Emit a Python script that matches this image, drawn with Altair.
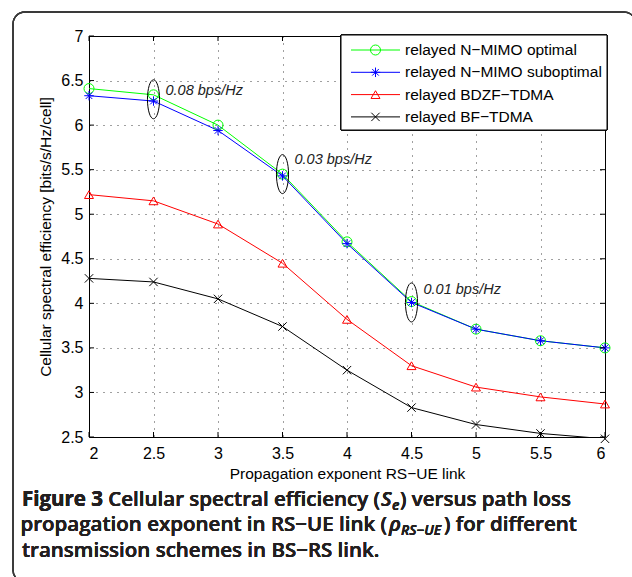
import altair as alt
import pandas as pd

# ---------------- data ----------------
x_vals = [2, 2.5, 3, 3.5, 4, 4.5, 5, 5.5, 6]
series_names = [
    "relayed N\u2212MIMO optimal",
    "relayed N\u2212MIMO suboptimal",
    "relayed BDZF\u2212TDMA",
    "relayed BF\u2212TDMA",
]
optimal = [6.41, 6.34, 6.00, 5.45, 4.69, 4.02, 3.71, 3.58, 3.50]
suboptimal = [6.33, 6.27, 5.94, 5.43, 4.67, 4.01, 3.71, 3.58, 3.50]
bdzf = [5.22, 5.15, 4.89, 4.45, 3.82, 3.30, 3.06, 2.95, 2.87]
bf = [4.28, 4.24, 4.05, 3.74, 3.25, 2.83, 2.64, 2.54, 2.48]
series_values = [optimal, suboptimal, bdzf, bf]

x_ticks = [2, 2.5, 3, 3.5, 4, 4.5, 5, 5.5, 6]
y_ticks = [2.5, 3, 3.5, 4, 4.5, 5, 5.5, 6, 6.5, 7]

ellipse_x = [2.5, 3.5, 4.5]
ellipse_y = [6.29, 5.45, 4.01]
annot_y = [6.38, 5.61, 4.15]
annot_text = ["0.08 bps/Hz", "0.03 bps/Hz", "0.01 bps/Hz"]

colors = ["#00ff00", "#0000ff", "#ff0000", "#000000"]
CIRCLE = "circle"
ASTER = "M0,-1L0,1M-1,0L1,0M-0.7,-0.7L0.7,0.7M-0.7,0.7L0.7,-0.7"
TRI = "triangle-up"
CROSS = "M-1,-1L1,1M-1,1L1,-1"
shapes = [CIRCLE, ASTER, TRI, CROSS]
sizes = [100, 70, 110, 50]

# ---------------- tables ----------------
rows = []
for name, vals in zip(series_names, series_values):
    for x, v in zip(x_vals, vals):
        rows.append({"series": name, "x": x, "y": v})
df = pd.DataFrame(rows)

W, H = 516, 401
XS = alt.Scale(domain=[2, 6], nice=False, zero=False)
YS = alt.Scale(domain=[2.5, 7], nice=False, zero=False)
col_scale = alt.Scale(domain=series_names, range=colors)
shape_scale = alt.Scale(domain=series_names, range=shapes)
size_scale = alt.Scale(domain=series_names, range=sizes)

AX = "Liberation Sans"

x_axis = alt.Axis(values=x_ticks, format="~g", title="Propagation exponent RS\u2212UE link",
                  grid=True, ticks=False, domain=False, labelPadding=8, titlePadding=5)
y_axis = alt.Axis(values=y_ticks, format="~g", title="Cellular spectral efficiency [bits/s/Hz/cell]",
                  grid=True, ticks=False, domain=False, labelPadding=6, titlePadding=7)

base = alt.Chart(df)

lines = base.mark_line(strokeWidth=1, clip=True).encode(
    x=alt.X("x:Q", scale=XS, axis=x_axis),
    y=alt.Y("y:Q", scale=YS, axis=y_axis),
    color=alt.Color("series:N", scale=col_scale, legend=None),
    detail="series:N",
)

points = base.mark_point(filled=False, strokeWidth=1, opacity=1).encode(
    x=alt.X("x:Q", scale=XS),
    y=alt.Y("y:Q", scale=YS),
    color=alt.Color("series:N", scale=col_scale, legend=None),
    shape=alt.Shape("series:N", scale=shape_scale, legend=None),
    size=alt.Size("series:N", scale=size_scale, legend=None),
)

# inward ticks
xt = pd.DataFrame({"v": x_ticks})
yt = pd.DataFrame({"v": y_ticks})
tick_b = alt.Chart(xt).mark_rule(color="black", strokeWidth=1).encode(
    x=alt.X("v:Q", scale=XS), y=alt.value(H), y2=alt.value(H - 5))
tick_t = alt.Chart(xt).mark_rule(color="black", strokeWidth=1).encode(
    x=alt.X("v:Q", scale=XS), y=alt.value(0), y2=alt.value(5))
tick_l = alt.Chart(yt).mark_rule(color="black", strokeWidth=1).encode(
    y=alt.Y("v:Q", scale=YS), x=alt.value(0), x2=alt.value(5))
tick_r = alt.Chart(yt).mark_rule(color="black", strokeWidth=1).encode(
    y=alt.Y("v:Q", scale=YS), x=alt.value(W), x2=alt.value(W - 5))

# annotations
ann = pd.DataFrame({"x": ellipse_x, "y": ellipse_y, "ty": annot_y, "t": annot_text})
ELL = "M0,-1A0.31,1,0,1,1,0,1A0.31,1,0,1,1,0,-1Z"
ellipses = alt.Chart(ann).mark_point(shape=ELL, filled=False, color="black",
                                     strokeWidth=1, size=1521, opacity=1).encode(
    x=alt.X("x:Q", scale=XS), y=alt.Y("y:Q", scale=YS))
ann_text = alt.Chart(ann).mark_text(align="left", baseline="middle", dx=12, font=AX,
                                    fontSize=14.5, fontStyle="italic", color="#222").encode(
    x=alt.X("x:Q", scale=XS), y=alt.Y("ty:Q", scale=YS), text="t:N")

# legend (custom, MATLAB-like)
LX0, LX1, LY0, LY1 = 252, 518, -1, 94
leg_rows = pd.DataFrame({
    "series": series_names,
    "ly": [14 + 22.3 * i for i in range(len(series_names))],
    "lx0": [262] * 4, "lx1": [311] * 4, "lm": [286.5] * 4, "lt": [316] * 4,
})
leg_box = alt.Chart(leg_rows).mark_rect(fill="white", stroke="black", strokeWidth=1).encode(
    x=alt.value(LX0), x2=alt.value(LX1), y=alt.value(LY0), y2=alt.value(LY1))
leg_lines = alt.Chart(leg_rows).mark_rule(strokeWidth=1).encode(
    x=alt.X("lx0:Q", scale=None), x2="lx1:Q", y=alt.Y("ly:Q", scale=None),
    color=alt.Color("series:N", scale=col_scale, legend=None))
leg_pts = alt.Chart(leg_rows).mark_point(filled=False, strokeWidth=1, opacity=1).encode(
    x=alt.X("lm:Q", scale=None), y=alt.Y("ly:Q", scale=None),
    color=alt.Color("series:N", scale=col_scale, legend=None),
    shape=alt.Shape("series:N", scale=shape_scale, legend=None),
    size=alt.Size("series:N", scale=size_scale, legend=None))
leg_txt = alt.Chart(leg_rows).mark_text(align="left", baseline="middle", font=AX,
                                        fontSize=15.5, color="black").encode(
    x=alt.X("lt:Q", scale=None), y=alt.Y("ly:Q", scale=None), text="series:N")

# outer rounded frame
frame = alt.Chart(leg_rows).mark_rect(fillOpacity=0, stroke="#3a3a3a", strokeWidth=1.3,
                                      cornerRadius=12).encode(
    x=alt.value(13 - 89), x2=alt.value(636 - 89), y=alt.value(12 - 36), y2=alt.value(582 - 36))

# caption
CF = "Open Sans"
CC = "#231f20"
OX, OY = 89, 36
CS = 20.5
SUB = 14
def cap(text, x, y, align="left", weight=600, style="normal", size=CS):
    return alt.Chart(leg_rows).mark_text(text=text, align=align, baseline="alphabetic",
                                         font=CF, fontSize=size, fontWeight=weight,
                                         fontStyle=style, color=CC).encode(
        x=alt.value(x - OX), y=alt.value(y - OY))

caption = [
    cap("Figure 3", 22, 506, weight=700),
    cap("Cellular spectral efficiency (", 380, 506, align="right"),
    cap("S", 381, 506, style="italic"),
    cap("e", 392, 510, style="italic", size=SUB),
    cap(") versus path loss", 400, 506),
    cap("propagation exponent in RS\u2212UE link (", 387, 531, align="right"),
    cap("\u03c1", 389, 531, style="italic"),
    cap("RS\u2212UE", 401, 535, style="italic", size=SUB),
    cap(") for different", 444, 531),
    cap("transmission schemes in BS\u2212RS link.", 22, 557),
]

chart = alt.layer(
    frame, lines, points, tick_b, tick_t, tick_l, tick_r,
    ellipses, ann_text, leg_box, leg_lines, leg_pts, leg_txt, *caption
).properties(
    width=W, height=H,
    autosize=alt.AutoSizeParams(type="none"),
    padding={"left": 89, "top": 36, "right": 27, "bottom": 140},
    background="white",
).configure_view(
    stroke="black", strokeWidth=1,
).configure_axis(
    labelFont=AX, titleFont=AX, labelFontSize=16, titleFontSize=15.5,
    labelColor="black", titleColor="black", titleFontWeight="normal",
    gridColor="black", gridOpacity=0.75, gridDash=[1, 6], gridWidth=1,
)

chart.save("out.html", embed_options={"renderer": "svg", "actions": False})
